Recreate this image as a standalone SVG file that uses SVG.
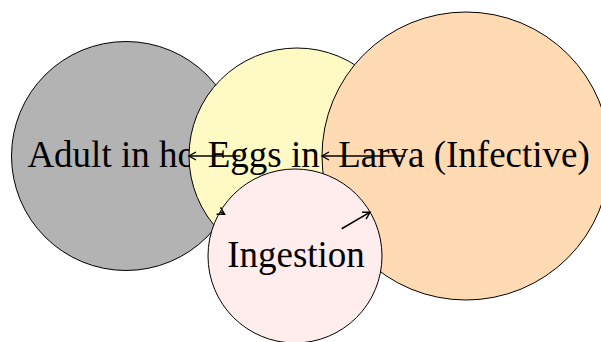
<svg xmlns="http://www.w3.org/2000/svg" width="601" height="342" viewBox="0 0 601 342">
<style>
.node{stroke:#000;stroke-width:1}
.lbl{font-family:'Liberation Serif','Times New Roman','DejaVu Serif',serif;font-size:37px;fill:#000;text-anchor:middle}
.edge{stroke:#000;stroke-width:1.6;fill:none}
</style>
<defs>
<marker id="arr" markerUnits="userSpaceOnUse" markerWidth="10" markerHeight="10" refX="8" refY="5" orient="auto">
<path d="M1,1 L8,5 L1,9" fill="none" stroke="#000" stroke-width="1.4"/>
</marker>
</defs>
<rect width="601" height="342" fill="#fff"/>
<g id="adult"><circle class="node" cx="126" cy="156" r="114.5" fill="#b3b3b3"/><text class="lbl" font-family="Liberation Serif, serif" x="124" y="167">Adult in host</text></g>
<g id="eggs"><circle class="node" cx="297" cy="156" r="108" fill="#fff9c4"/><text class="lbl" font-family="Liberation Serif, serif" x="295" y="167">Eggs in soil</text></g>
<g id="larva"><circle class="node" cx="466" cy="156" r="144" fill="#ffdab3"/><text class="lbl" font-family="Liberation Serif, serif" x="464" y="167">Larva (Infective)</text></g>
<g id="ingestion"><circle class="node" cx="295" cy="256" r="87" fill="#ffedee"/><text class="lbl" font-family="Liberation Serif, serif" x="296" y="267">Ingestion</text></g>
<g id="connectors">
<line class="edge" x1="240.5" y1="156" x2="189" y2="156" marker-end="url(#arr)"/>
<line class="edge" x1="405" y1="156" x2="322" y2="156" marker-end="url(#arr)"/>
<line class="edge" x1="341.7" y1="228.7" x2="370.1" y2="212.1" marker-end="url(#arr)"/>
<line class="edge" x1="220.1" y1="211.7" x2="224.6" y2="214.3" marker-end="url(#arr)"/>
</g>
</svg>
